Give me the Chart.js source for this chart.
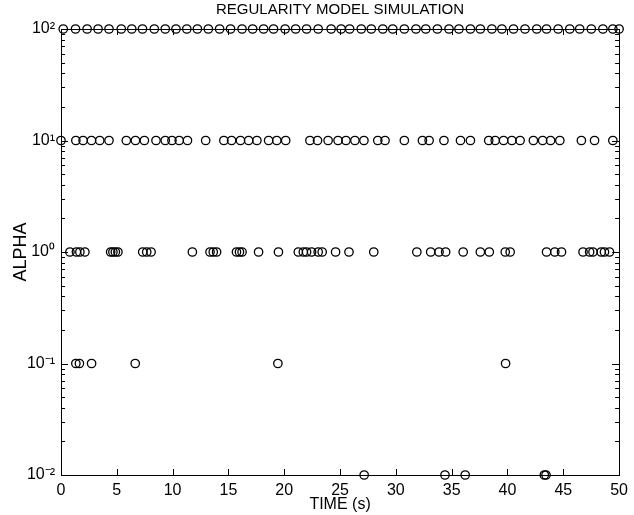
<!DOCTYPE html>
<html><head><meta charset="utf-8">
<script src="https://cdn.jsdelivr.net/npm/chart.js@4"></script>
<style>html,body{margin:0;padding:0;background:#fff}</style>
</head><body>
<canvas id="c" width="634" height="515"></canvas>
<script>
// ---- data ----
const chartTitle = 'REGULARITY MODEL SIMULATION';
const xAxisTitle = 'TIME (s)';
const yAxisTitle = 'ALPHA';
const xTickValues = [0, 5, 10, 15, 20, 25, 30, 35, 40, 45, 50];
const yDecades = [0.01, 0.1, 1, 10, 100];
const yTickLabels = ['10\u207B\u00B2', '10\u207B\u00B9', '10\u2070', '10\u00B9', '10\u00B2'];

const timesAlpha100 = [0.2, 1.3, 2.34, 3.32, 4.3, 5.4, 6.34, 7.3, 8.36, 9.34, 10.3, 11.27, 12.22, 13.2, 14.21, 15.19, 16.22, 17.17, 18.15, 19.04, 20.08, 21.02, 22.0, 23.04, 24.2, 25.1, 25.86, 26.9, 27.8, 28.83, 29.72, 30.76, 31.8, 32.68, 33.72, 34.76, 35.65, 36.68, 37.57, 38.6, 39.5, 40.54, 41.57, 42.62, 43.5, 44.54, 45.58, 46.47, 47.51, 48.55, 49.44, 50.0];
const timesAlpha10 = [0.0, 1.33, 1.98, 2.73, 3.47, 4.3, 5.85, 6.67, 7.47, 8.51, 9.34, 9.94, 10.59, 11.33, 12.96, 14.59, 15.28, 16.08, 16.81, 17.55, 18.6, 19.33, 20.13, 22.3, 22.98, 23.93, 24.82, 25.53, 26.33, 27.14, 28.38, 29.03, 30.76, 32.38, 32.98, 34.31, 35.79, 36.68, 38.32, 38.9, 39.65, 40.39, 41.13, 42.32, 43.15, 43.86, 44.69, 46.62, 47.8, 49.44];
const timesAlpha1 = [0.8, 1.38, 1.69, 2.14, 4.45, 4.65, 4.87, 5.1, 7.32, 7.68, 8.07, 11.77, 13.35, 13.64, 13.94, 15.72, 15.99, 16.22, 17.7, 19.48, 21.26, 21.71, 22.0, 22.45, 23.04, 23.4, 24.6, 25.8, 28.02, 31.88, 33.12, 33.87, 34.46, 36.03, 37.57, 38.37, 39.8, 40.24, 43.5, 44.24, 44.84, 46.77, 47.36, 47.66, 48.4, 48.69, 49.14];
const timesAlpha01 = [1.33, 1.65, 2.74, 6.65, 19.43, 39.83];
const timesAlpha001 = [27.16, 34.4, 36.21, 43.3, 43.45];

const seriesAlpha = [100, 10, 1, 0.1, 0.01];
const seriesTimes = [timesAlpha100, timesAlpha10, timesAlpha1, timesAlpha01, timesAlpha001];

const FONT = "'Liberation Sans', Arial, Helvetica, sans-serif";

const datasets = seriesTimes.map((times, i) => ({
  label: 'alpha ' + seriesAlpha[i],
  data: times.map(t => ({x: t, y: seriesAlpha[i]})),
  showLine: false,
  pointStyle: 'circle',
  pointRadius: 4.2,
  pointHoverRadius: 4.2,
  pointBorderWidth: 1.3,
  borderColor: '#000',
  backgroundColor: 'rgba(0,0,0,0)',
  pointBackgroundColor: 'rgba(0,0,0,0)',
  clip: false
}));

// frame + inward tick marks (MATLAB style), positions from Chart.js scales
const frameTicks = {
  id: 'frameTicks',
  beforeDatasetsDraw(chart) {
    const {ctx, chartArea: a, scales: {x, y}} = chart;
    ctx.save();
    ctx.strokeStyle = '#000';
    ctx.lineWidth = 1;
    ctx.strokeRect(Math.round(a.left) + 0.5, Math.round(a.top) + 0.5, Math.round(a.right - a.left), Math.round(a.bottom - a.top));
    ctx.beginPath();
    xTickValues.forEach(v => {
      const px = Math.round(x.getPixelForValue(v)) + 0.5;
      ctx.moveTo(px, a.bottom); ctx.lineTo(px, a.bottom - 6);
      ctx.moveTo(px, a.top); ctx.lineTo(px, a.top + 6);
    });
    for (let d = 0; d < yDecades.length; d++) {
      const base = yDecades[d];
      for (let m = 1; m <= 9; m++) {
        const v = base * m;
        if (v > y.max * 1.0000001) break;
        const py = Math.round(y.getPixelForValue(v)) + 0.5;
        const len = m === 1 ? 7 : 4;
        ctx.moveTo(a.left, py); ctx.lineTo(a.left + len, py);
        ctx.moveTo(a.right, py); ctx.lineTo(a.right - len, py);
      }
    }
    ctx.stroke();
    ctx.restore();
  }
};

new Chart(document.getElementById('c'), {
  type: 'scatter',
  data: {datasets},
  options: {
    responsive: false,
    animation: false,
    devicePixelRatio: 1,
    layout: {padding: {left: 0, right: 11, top: 0, bottom: 0}},
    plugins: {
      legend: {display: false},
      tooltip: {enabled: false},
      title: {
        display: true, text: chartTitle, fullSize: false,
        color: '#000', font: {family: FONT, size: 15, weight: 'normal'},
        padding: {top: 1, bottom: 10}
      }
    },
    scales: {
      x: {
        type: 'linear', min: 0, max: 50,
        afterFit: s => { s.height = 40; },
        afterBuildTicks: s => { s.ticks = xTickValues.map(v => ({value: v})); },
        grid: {display: false, drawTicks: false},
        border: {display: false},
        ticks: {color: '#000', font: {family: FONT, size: 16}, padding: 6, autoSkip: false, maxRotation: 0},
        title: {display: true, text: xAxisTitle, color: '#000', font: {family: FONT, size: 16}, padding: {top: 0, bottom: 0.5}}
      },
      y: {
        type: 'logarithmic', min: 0.01, max: 100,
        afterFit: s => { s.width = 61; },
        afterBuildTicks: s => { s.ticks = yDecades.map(v => ({value: v, major: true})); },
        grid: {display: false, drawTicks: false},
        border: {display: false},
        ticks: {
          color: '#000', font: {family: FONT, size: 16}, padding: 6, autoSkip: false,
          callback: (v) => { const i = yDecades.findIndex(d => Math.abs(d - v) / d < 1e-6); return i >= 0 ? yTickLabels[i] : ''; }
        },
        title: {display: true, text: yAxisTitle, color: '#000', font: {family: FONT, size: 18}, padding: {top: 10, bottom: 0}}
      }
    }
  },
  plugins: [frameTicks]
});
</script>
</body></html>
